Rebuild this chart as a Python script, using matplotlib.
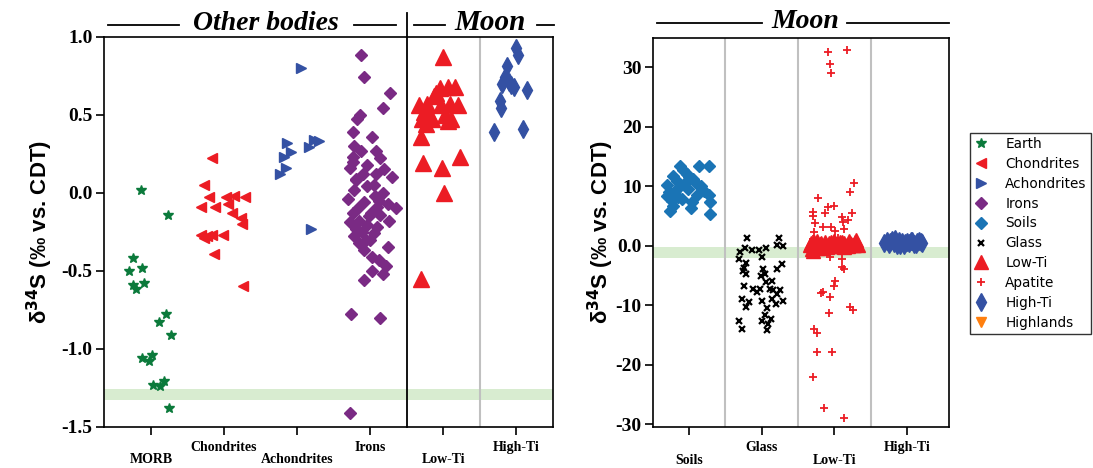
import matplotlib
matplotlib.use("Agg")
import matplotlib.pyplot as plt
from matplotlib.transforms import blended_transform_factory

plt.rcParams["axes.unicode_minus"] = False

# ---- left panel: other bodies + Moon (permil)
morb_x = [0.86, 1.23, 0.75, 0.70, 0.88, 0.76, 0.80, 0.91, 1.20, 1.11, 1.27, 0.88, 1.01, 0.97, 1.03, 1.13, 1.18, 1.24]
morb_y = [0.02, -0.14, -0.42, -0.50, -0.48, -0.59, -0.62, -0.58, -0.78, -0.83, -0.91, -1.06, -1.04, -1.08, -1.23, -1.24, -1.21, -1.38]

chond_x = [1.84, 1.73, 1.80, 1.69, 1.87, 2.03, 2.13, 2.28, 2.05, 2.11, 2.23, 2.24, 1.69, 1.77, 1.84, 1.98, 1.72, 1.86, 2.26]
chond_y = [0.22, 0.05, -0.03, -0.09, -0.09, -0.03, -0.02, -0.03, -0.07, -0.13, -0.16, -0.20, -0.27, -0.28, -0.27, -0.27, -0.29, -0.39, -0.60]

achon_x = [3.05, 2.86, 2.91, 2.82, 2.85, 2.76, 3.23, 3.30, 3.16, 3.19]
achon_y = [0.80, 0.32, 0.26, 0.23, 0.16, 0.12, 0.34, 0.33, 0.29, -0.23]

irons_x = [3.87, 3.91, 4.27, 4.17, 3.86, 3.82, 3.76, 4.02, 3.78, 3.87, 4.08, 3.76, 4.14, 3.96, 3.73,
           4.19, 4.08, 4.30, 3.80, 4.05, 3.78, 4.17, 3.91, 4.24, 4.10, 4.35, 3.76, 4.01, 4.14, 3.85,
           3.73, 4.26, 3.96, 4.10, 3.80, 3.89, 4.05, 3.78, 3.94, 3.85, 4.24, 3.91, 4.03, 4.12, 4.21,
           4.03, 4.17, 3.91, 3.74, 4.13, 3.73, 3.80, 3.95, 4.06, 3.84, 3.99, 4.12, 3.77, 3.90, 3.70, 4.00]
irons_y = [0.88, 0.74, 0.64, 0.54, 0.50, 0.47, 0.39, 0.36, 0.30, 0.27, 0.27, 0.23, 0.22, 0.18, 0.16,
           0.15, 0.12, 0.10, 0.09, 0.05, 0.02, 0.00, -0.06, -0.07, -0.09, -0.10, -0.13, -0.13, -0.14, -0.18,
           -0.19, -0.18, -0.21, -0.22, -0.23, -0.25, -0.26, -0.28, -0.30, -0.32, -0.35, -0.37, -0.41, -0.43, -0.47,
           -0.50, -0.52, -0.56, -0.78, -0.80, -1.41, 0.08, 0.04, -0.02, -0.10, -0.15, -0.05, 0.20, 0.12, -0.04, -0.30]

lowti_x = [4.99, 4.96, 5.06, 5.16, 4.90, 4.67, 4.78, 4.97, 5.09, 5.20, 4.71, 4.84, 5.06,
           4.76, 4.70, 4.72, 5.23, 4.98, 5.01, 4.69, 4.88, 5.03, 5.10, 4.82, 4.73]
lowti_y = [0.87, 0.67, 0.68, 0.68, 0.64, 0.56, 0.57, 0.56, 0.57, 0.56, 0.47, 0.47, 0.46,
           0.44, 0.36, 0.19, 0.23, 0.16, 0.00, -0.55, 0.62, 0.50, 0.47, 0.49, 0.52]

hiti_x = [6.00, 6.02, 5.87, 5.81, 5.90, 5.97, 6.15, 5.77, 5.79, 5.69, 6.09, 5.85, 5.93]
hiti_y = [0.93, 0.88, 0.81, 0.70, 0.71, 0.68, 0.66, 0.59, 0.54, 0.39, 0.41, 0.74, 0.69]

left_labels = ["\nMORB", "Chondrites", "\nAchondrites", "Irons", "\nLow-Ti", "High-Ti"]
left_ticks = [-1.5, -1.0, -0.5, 0.0, 0.5, 1.0]

# ---- right panel: Moon
soil_x = [0.88, 1.27, 1.14, 0.78, 0.97, 1.06, 0.69, 0.88, 1.17, 0.81, 0.99, 1.27, 0.69, 0.90, 1.11,
          1.04, 0.78, 1.29, 0.74, 1.29, 0.83, 0.95, 0.76, 0.92, 1.00, 1.10, 0.72, 1.20, 0.85, 1.02]
soil_y = [13.4, 13.5, 13.4, 11.7, 12.0, 11.2, 10.3, 10.0, 10.0, 9.2, 9.5, 8.6, 8.4, 7.8, 8.6,
          7.3, 6.7, 7.3, 5.9, 5.3, 10.9, 10.6, 7.5, 12.8, 11.5, 10.5, 9.0, 9.2, 8.2, 6.4]

glass_x = [1.80, 2.24, 1.77, 1.70, 1.86, 1.97, 2.06, 2.21, 2.29, 1.69, 2.00, 2.28, 2.21, 1.75, 1.78,
           1.99, 2.05, 2.14, 2.06, 1.75, 1.88, 1.98, 2.16, 2.25, 2.21, 1.73, 1.82, 2.00, 2.14, 2.29,
           1.78, 2.07, 2.20, 2.05, 2.13, 1.69, 2.00, 2.09, 1.73, 2.08, 1.93, 2.02, 1.79, 1.74, 2.12]
glass_y = [1.4, 1.3, -0.3, -1.1, -0.7, -0.7, -0.4, 0.1, -0.1, -2.2, -1.8, -3.1, -3.9, -3.8, -4.7,
           -5.0, -4.7, -5.9, -6.1, -6.7, -7.2, -7.2, -7.4, -7.5, -8.1, -8.9, -9.5, -9.2, -8.9, -9.2,
           -10.3, -10.5, -9.7, -11.7, -12.3, -12.7, -12.7, -13.1, -13.9, -14.2, -7.8, -3.9, -2.8, -4.3, -7.2]

lt2_x = [2.66, 2.69, 2.72, 2.75, 2.78, 2.81, 2.84, 2.87, 2.90, 2.93, 2.96, 2.99, 3.02, 3.05, 3.08, 3.11,
         3.14, 3.17, 3.20, 3.23, 3.26, 3.29, 3.32, 2.70, 2.76, 2.85, 2.95, 3.04, 3.13, 3.22, 3.30,
         2.68, 2.80, 2.91, 3.00, 3.10, 3.19, 3.27]
lt2_y = [0.2, -0.5, 0.6, 0.1, -0.3, 0.5, 0.0, 0.7, -0.2, 0.4, 0.1, 0.8, -0.1, 0.3, 0.6, 0.0,
         0.5, 0.2, 0.9, 0.3, 0.1, 0.6, 0.2, -0.8, 0.9, -0.4, 0.7, 0.0, -0.2, 0.4, 1.0,
         0.5, 0.3, 0.1, 0.9, 0.6, -0.1, 0.2]

apat_x = [2.92, 3.17, 2.94, 2.95, 3.27, 3.21, 2.78, 2.92, 2.99, 2.70, 2.87, 3.24, 2.71, 3.10, 3.19,
          3.12, 2.73, 2.85, 2.96, 3.13, 2.72, 3.01, 2.94, 3.10, 3.11, 3.14, 3.01, 2.99, 2.85, 2.81,
          2.94, 3.21, 3.26, 2.93, 2.72, 2.76, 2.76, 2.97, 2.70, 2.86, 3.14, 2.70, 2.76, 2.82, 3.05, 2.73]
apat_y = [32.6, 33.0, 30.6, 29.0, 10.6, 9.0, 8.1, 6.6, 6.7, 5.7, 5.5, 5.6, 5.0, 4.9, 4.3,
          4.0, 3.9, 3.2, 3.2, 2.8, 2.3, 2.5, -1.9, -2.2, -3.6, -3.9, -5.9, -6.7, -7.7, -7.9,
          -8.6, -10.3, -10.8, -11.3, -13.9, -14.6, -17.8, -17.8, -22.0, -27.3, -29.0, 1.2, 0.3, -0.6, 1.4, -1.0]

ht2_x = [3.68, 3.72, 3.75, 3.79, 3.82, 3.86, 3.89, 3.93, 3.96, 4.00, 4.03, 4.07, 4.10, 4.14, 4.17, 4.21,
         3.77, 3.84, 3.91, 3.98, 4.05, 4.12, 4.19]
ht2_y = [0.4, 0.8, 0.3, 1.0, 0.5, 0.2, 0.9, 0.6, 0.1, 0.7, 0.4, 0.9, 0.3, 0.6, 0.8, 0.5,
         0.6, 1.1, 0.2, 0.5, 0.8, 0.3, 0.7]

right_labels = ["\nSoils", "Glass", "\nLow-Ti", "High-Ti"]
right_ticks = [-30, -20, -10, 0, 10, 20, 30]
right_ticklabels = ["-30", "-20", "-10", "0.0", "10", "20", "30"]

GREEN = "#0b7a3b"
RED = "#ec1c24"
BLUE = "#3451a3"
PURPLE = "#7a2a84"
SOIL = "#1a74b5"
BAND = "#d8ecd0"
GRAY = "#c0c0c0"
SERIF = "Liberation Serif"

fig = plt.figure(figsize=(10.93, 4.68), dpi=100)
ax1 = fig.add_axes([0.0947, 0.0882, 0.4111, 0.8333])
ax2 = fig.add_axes([0.5972, 0.0870, 0.2711, 0.8312])

kw = dict(ls="none", zorder=3)
h_earth, = ax1.plot(morb_x, morb_y, marker="*", ms=7, color=GREEN, label="Earth", **kw)
h_chon, = ax1.plot(chond_x, chond_y, marker="<", ms=7, color=RED, label="Chondrites", **kw)
h_achon, = ax1.plot(achon_x, achon_y, marker=">", ms=7, color=BLUE, label="Achondrites", **kw)
h_iron, = ax1.plot(irons_x, irons_y, marker="D", ms=6.3, color=PURPLE, label="Irons", **kw)
ax1.plot(lowti_x, lowti_y, marker="^", ms=11, color=RED, **kw)
ax1.plot(hiti_x, hiti_y, marker="d", ms=9, color=BLUE, **kw)

ax1.axhspan(-1.33, -1.26, color=BAND, zorder=0, lw=0)
ax1.axvline(5.5, color=GRAY, lw=1.5, zorder=1)
ax1.set_xlim(0.35, 6.5)
ax1.set_ylim(-1.5, 1.0)
ax1.set_xticks(range(1, 7))
ax1.set_xticklabels(left_labels)
ax1.set_yticks(left_ticks)
ax1.set_yticklabels([f"{v:.1f}" for v in left_ticks])

h_soil, = ax2.plot(soil_x, soil_y, marker="D", ms=6.3, color=SOIL, label="Soils", **kw)
h_glass, = ax2.plot(glass_x, glass_y, marker="x", ms=4.5, mew=1.6, color="black", label="Glass", **kw)
h_low, = ax2.plot(lt2_x, lt2_y, marker="^", ms=10.5, color=RED, label="Low-Ti", **kw)
h_apat, = ax2.plot(apat_x, apat_y, marker="+", ms=5.5, mew=1.3, color=RED, label="Apatite", **kw)
h_high, = ax2.plot(ht2_x, ht2_y, marker="d", ms=9, color=BLUE, label="High-Ti", **kw)
h_hl, = ax2.plot([], [], marker="v", ms=7, color="#ff7f0e", label="Highlands", **kw)

ax2.axhspan(-2.0, -0.2, color=BAND, zorder=0, lw=0)
for xv in (1.5, 2.5, 3.5):
    ax2.axvline(xv, color=GRAY, lw=1.5, zorder=1)
ax2.set_xlim(0.5, 4.58)
ax2.set_ylim(-30.5, 34.9)
ax2.set_xticks(range(1, 5))
ax2.set_xticklabels(right_labels)
ax2.set_yticks(right_ticks)
ax2.set_yticklabels(right_ticklabels)

for ax in (ax1, ax2):
    for s in ax.spines.values():
        s.set_linewidth(1.2)
    ax.tick_params(direction="out", length=6, width=1.2, pad=2)
    ax.tick_params(axis="x", pad=4)
    for lbl in ax.get_xticklabels():
        lbl.set_fontfamily(SERIF)
        lbl.set_fontweight("bold")
        lbl.set_fontsize(10)
        lbl.set_linespacing(0.98)
    for lbl in ax.get_yticklabels():
        lbl.set_fontfamily(SERIF)
        lbl.set_fontweight("bold")
        lbl.set_fontsize(14)

# group headers above the panels
hdr = dict(ha="center", va="center", fontsize=20, fontweight="bold",
           fontstyle="italic", family=SERIF)
t1 = blended_transform_factory(ax1.transData, ax1.transAxes)
for x0, x1 in [(0.41, 1.39), (3.78, 4.35), (4.60, 5.02), (6.28, 6.52)]:
    ax1.plot([x0, x1], [1.03, 1.03], color="black", lw=1.3, transform=t1, clip_on=False)
ax1.plot([4.5, 4.5], [0, 1.062], color="black", lw=1.3, transform=t1, clip_on=False, zorder=2)
ax1.text(2.57, 1.035, "Other bodies", transform=t1, **hdr)
ax1.text(5.64, 1.036, "Moon", transform=t1, **dict(hdr, fontsize=21))

t2 = blended_transform_factory(ax2.transData, ax2.transAxes)
for x0, x1 in [(0.56, 2.0), (3.17, 4.58)]:
    ax2.plot([x0, x1], [1.039, 1.039], color="black", lw=1.3, transform=t2, clip_on=False)
ax2.text(2.6, 1.044, "Moon", transform=t2, **hdr)

ylab = "δ$^{\\mathbf{34}}$S (‰ vs. CDT)"
fig.text(40 / 1093, 0.505, ylab, rotation=90, ha="center", va="center",
         fontsize=16, fontweight="bold", family="Liberation Sans")
fig.text(601 / 1093, 0.505, ylab, rotation=90, ha="center", va="center",
         fontsize=16, fontweight="bold", family="Liberation Sans")

handles = [h_earth, h_chon, h_achon, h_iron, h_soil, h_glass, h_low, h_apat, h_high, h_hl]
leg = fig.legend(handles=handles, loc="upper left", bbox_to_anchor=(970 / 1093, 1 - 133 / 468),
                 fontsize=9.8, frameon=True, fancybox=False, edgecolor="black",
                 handlelength=1.0, handletextpad=1.3, labelspacing=0.43, borderpad=0.3,
                 borderaxespad=0)
leg.get_frame().set_linewidth(1.0)

fig.savefig("out.png", dpi=100)
